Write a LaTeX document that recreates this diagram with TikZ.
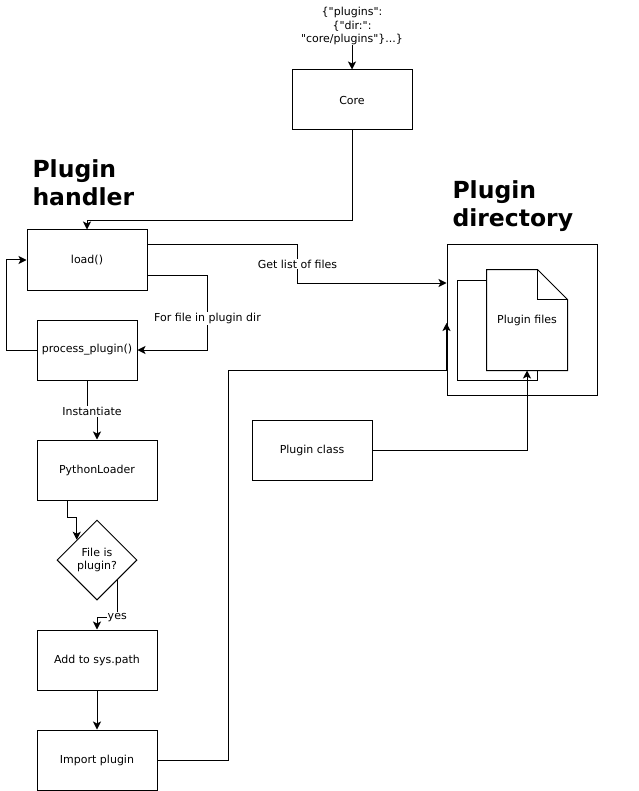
\documentclass[tikz,border=0pt]{standalone}
\usepackage{fontspec}
\setmainfont{DejaVu Sans}[Ligatures=TeXOff]
\usepackage{tikz}
\usetikzlibrary{arrows,arrows.meta,positioning,shapes.geometric}
\tikzset{
	>={Stealth[length=8pt, width=8pt, inset=2pt]}, % arrow heads like the drawing
	every node/.style={font=\fontsize{11}{13.5}\selectfont},
	block/.style={draw, rectangle, minimum width=120pt, minimum height=60pt, inner sep=0pt},
	smallblock/.style={block, minimum width=100pt},
	decision/.style={draw, diamond, minimum width=80pt, minimum height=80pt, inner sep=0pt, align=center},
	heading/.style={font=\fontsize{23.5}{28}\selectfont\bfseries, align=left, anchor=north west, inner sep=0pt},
	flow/.style={->},
	edgelabel/.style={fill=white, inner sep=1pt},
	page/.style={minimum width=80pt, minimum height=100pt, inner sep=0pt},
}

\begin{document}
\begin{tikzpicture}[x=1pt, y=-1pt, line width=1pt]
      \useasboundingbox (0,0) rectangle (638,791);

      % left column: plugin handler
      \node[heading] (hdlr) at (32,159) {Plugin\\handler};
      \node[block] (load) at (87,260) {load()};
      \node[smallblock] (proc) at (87,350) {process\_plugin()};
      \node[block] (pyl) at (97,470) {PythonLoader};
      \node[decision] (isplug) at (97,560) {File is\\plugin?};
      \node[block] (addpath) at (97,660) {Add to sys.path};
      \node[block] (imp) at (97,760) {Import plugin};

      % core and config
      \node[align=center, inner sep=0pt] (cfg) at (352,26) {\{"plugins":\\\{"dir:":\\"core/plugins"\}...\}};
      \node[block] (core) at (352,100) {Core};
      \node[block] (pclass) at (312,450) {Plugin class};

      % right: plugin directory
      \node[heading] (hdir) at (452,180) {Plugin\\directory};
      \node[draw, minimum size=150pt, inner sep=0pt] (dir) at (522,320) {};
      \node[page, draw, fill=white] (back) at (497,330) {};
      \node[page] (files) at (527,320) {};
      \draw[fill=white] (files.south west) -- (files.north west) -- ([xshift=-30pt]files.north east)
            -- ([yshift=-30pt]files.north east) -- (files.south east) -- cycle;
      \draw ([xshift=-30pt]files.north east) |- ([yshift=-30pt]files.north east);
      \node (filestext) at (files.center) {Plugin files};

      % connectors
      \draw[flow] (cfg) -- (core);
      \draw[flow] (core.south) -- ++(0,90) -| (load.north);
      \draw[flow] ([yshift=15pt]load.east) -- ++(150,0) |- ([yshift=37pt]dir.west)
            node[pos=0.25, edgelabel] {Get list of files};
      \draw[flow] ([yshift=-15pt]load.east) -- ++(60,0) |- (proc.east)
            node[pos=0.29, edgelabel] {For file in plugin dir};
      \draw[flow] (proc.west) -- ++(-30,0) |- (load.west);
      \draw[flow] (proc.south) -- ++(0,31) node[edgelabel, xshift=5pt] {Instantiate} -| (pyl.north);
      \draw[flow] ([xshift=-30pt]pyl.south) -- ++(0,17) -| (isplug.north west);
      \draw[flow] (isplug.south east) -- ++(0,37) node[edgelabel] {yes} -| (addpath.north);
      \draw[flow] (addpath) -- (imp);
      \draw[flow] (imp.east) -- ++(71,0) |- ([yshift=-50pt]dir.west) -- ([yshift=-3pt]dir.west);
      \draw[flow] (pclass.east) -| (files.south);

\end{tikzpicture}
\end{document}
